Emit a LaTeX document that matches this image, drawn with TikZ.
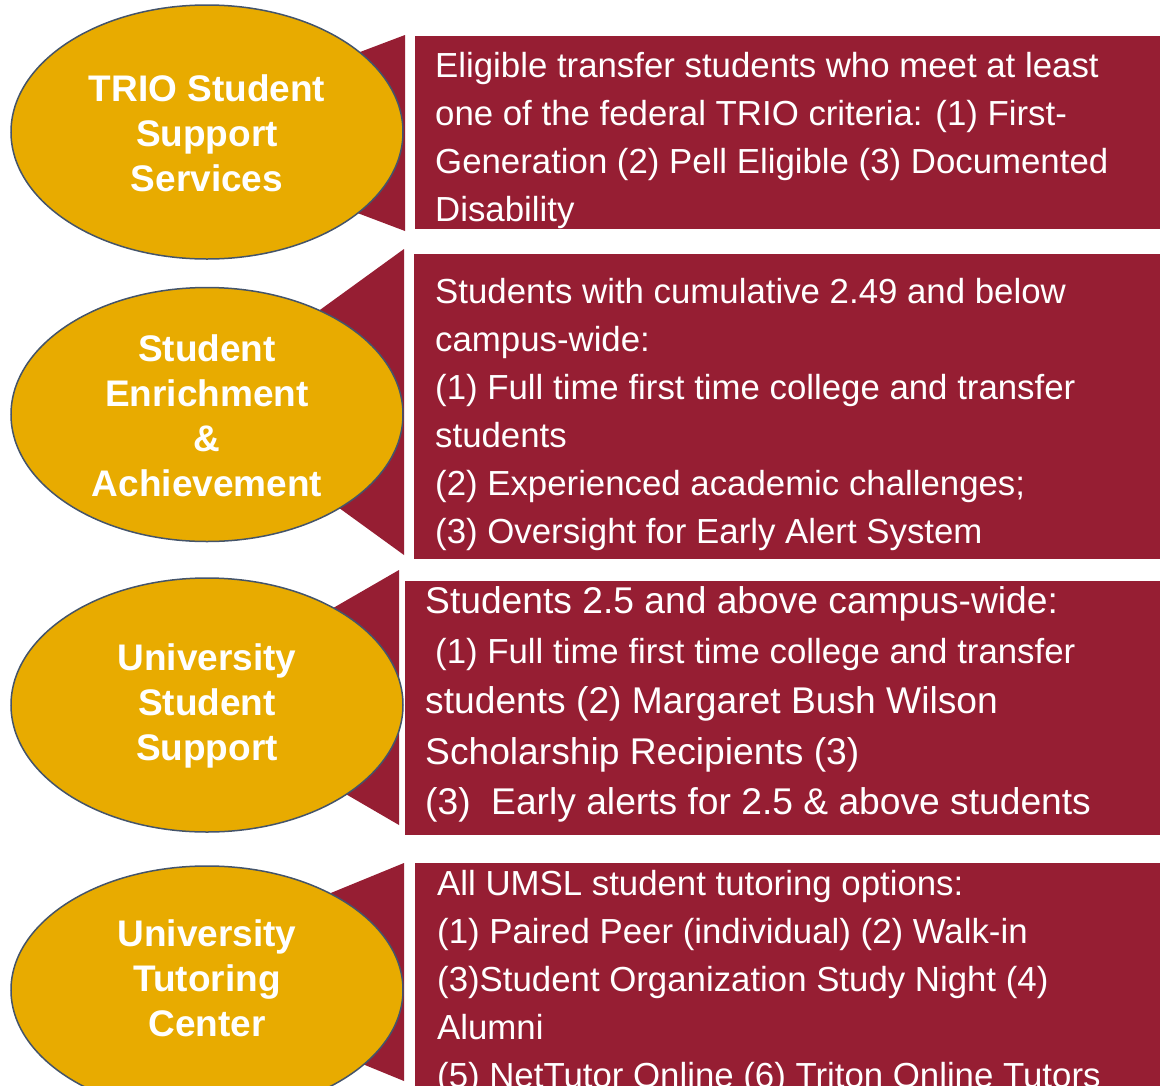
\documentclass[tikz,border=0pt]{standalone}
\usepackage{fontspec}
\setmainfont{Liberation Sans}
\usetikzlibrary{shapes.geometric}
\definecolor{gold}{HTML}{E8AB00}
\definecolor{maroon}{HTML}{961E33}
\definecolor{rim}{HTML}{44546A}
\tikzset{
  oval/.style={ellipse, fill=gold, draw=rim, line width=1.5pt, inner sep=0pt,
    minimum width=392pt, minimum height=254pt},
  ovaltext/.style={text=white, font=\fontsize{37}{45}\selectfont\bfseries, align=center, inner sep=0pt},
  wedge/.style={fill=maroon},
  panel/.style={fill=maroon},
  paneltext/.style={text=white, font=\fontsize{34.8}{48}\selectfont, align=left,
    anchor=north west, inner sep=0pt},
  bigpaneltext/.style={paneltext, font=\fontsize{37.2}{50.3}\selectfont},
}
\begin{document}
\begin{tikzpicture}[x=1pt,y=-1pt]
\clip (0,0) rectangle (1160,1085);
\fill[white] (0,0) rectangle (1160,1085);

% wedges behind the ovals
\fill[wedge] (405,35) -- (146,133) -- (405,231) -- cycle;
\fill[wedge] (404,249) -- (193,402) -- (404,555) -- cycle;
\fill[wedge] (399,570) -- (179,697) -- (399,825) -- cycle;
\fill[wedge] (404,863) -- (138,972) -- (404,1081) -- cycle;

% panels
\fill[panel] (414.5,36) rectangle (1160,229);
\fill[panel] (414,254) rectangle (1160,559);
\fill[panel] (405,581) rectangle (1160,835);
\fill[panel] (415,863) rectangle (1160,1090);

% ovals
\node[oval] (o1) at (207,132) {};
\node[oval] (o2) at (207,414.5) {};
\node[oval] (o3) at (207,705) {};
\node[oval, minimum height=248pt] (o4) at (207,990) {};

\node[ovaltext] (l1) at (207,133) {TRIO Student\\Support\\Services};
\node[ovaltext] (l2) at (207,415.5) {Student\\Enrichment\\\&\\Achievement};
\node[ovaltext] (l3) at (207,706) {University\\Student\\Support};
\node[ovaltext] (l4) at (207,978) {University\\Tutoring\\Center};

% panel texts
\node[paneltext] (p1) at (435,47) {\rule{0pt}{30pt}Eligible transfer students who meet at least\\
one of the federal TRIO criteria: (1) First-\\
Generation (2) Pell Eligible (3) Documented\\
Disability};
\node[paneltext] (p2) at (435,273) {\rule{0pt}{30pt}Students with cumulative 2.49 and below\\
campus-wide:\\
(1) Full time first time college and transfer\\
students\\
(2) Experienced academic challenges;\\
(3) Oversight for Early Alert System};
\node[bigpaneltext] (p3) at (425,581) {\rule{0pt}{32pt}Students 2.5 and above campus-wide:\\
{\fontsize{34.8}{50.3}\selectfont\hspace*{10pt}(1) Full time first time college and transfer}\\
students (2) Margaret Bush Wilson\\
Scholarship Recipients (3)\\
(3)\hspace*{20.6pt}Early alerts for 2.5 \& above students};
\node[paneltext] (p4) at (437,865) {\rule{0pt}{30pt}All UMSL student tutoring options:\\
(1) Paired Peer (individual) (2) Walk-in\\
(3)Student Organization Study Night (4)\\
Alumni\\
(5) NetTutor Online (6) Triton Online Tutors};
\end{tikzpicture}
\end{document}
